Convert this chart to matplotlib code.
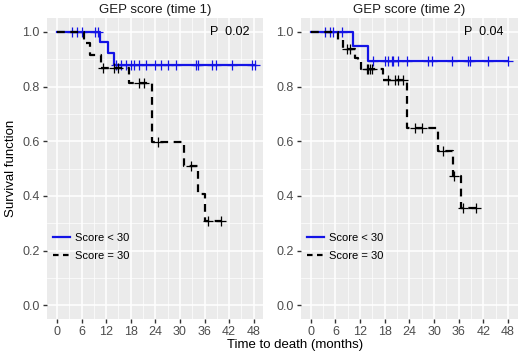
"""
Kaplan-Meier curves for GEP score, two panels (ggplot look).
"""
import numpy as np
import matplotlib
matplotlib.use("Agg")
import matplotlib.pyplot as plt

plt.rcParams['font.family'] = ['Liberation Sans', 'DejaVu Sans']

# panel 1: GEP score (time 1)
t1_low_times = [0, 10.4, 12.4, 13.8, 48.4]
t1_low_surv = [1.0, 0.962, 0.924, 0.880, 0.880]
t1_low_cens = [3.6, 4.8, 6.1, 9.2, 9.9, 14.5, 15.7, 16.9, 18.1, 18.9, 20.1, 21.7,
               23.8, 25.4, 27.0, 29.0, 33.9, 34.3, 37.9, 38.7, 42.7, 47.6, 48.4]
t1_high_times = [0, 6.6, 8.0, 10.7, 17.5, 23.3, 30.9, 34.5, 36.1, 39.9]
t1_high_surv = [1.0, 0.960, 0.914, 0.870, 0.815, 0.596, 0.509, 0.408, 0.308, 0.308]
t1_high_cens = [11.2, 13.8, 14.8, 20.0, 21.3, 24.7, 32.6, 36.9, 39.9]

# panel 2: GEP score (time 2)
t2_low_times = [0, 10.3, 14.0, 48.1]
t2_low_surv = [1.0, 0.948, 0.893, 0.893]
t2_low_cens = [3.4, 4.6, 5.4, 7.5, 15.2, 18.0, 18.8, 19.7, 20.0, 21.3, 23.3,
               28.6, 29.4, 34.3, 38.3, 38.8, 43.2, 48.1]
t2_high_times = [0, 6.7, 7.9, 10.7, 11.5, 12.3, 17.6, 23.3, 31.0, 34.5, 36.5, 40.2]
t2_high_surv = [1.0, 0.972, 0.938, 0.905, 0.893, 0.866, 0.823, 0.647, 0.566,
                0.473, 0.356, 0.356]
t2_high_cens = [8.7, 9.5, 13.6, 14.0, 14.4, 14.8, 18.8, 20.5, 21.3, 22.5,
                25.3, 27.0, 32.2, 34.9, 37.1, 40.2]

titles = ["GEP score (time 1)", "GEP score (time 2)"]
p_values = ["P  0.02", "P  0.04"]
labels = ["Score < 30", "Score = 30"]
x_ticks = [0, 6, 12, 18, 24, 30, 36, 42, 48]
y_ticks = [0.0, 0.2, 0.4, 0.6, 0.8, 1.0]

BLUE = "#1414e6"
W, H = 520, 359


def surv_at(times, surv, t):
    idx = np.searchsorted(times, t, side="right") - 1
    return np.asarray(surv)[idx]


def style_axes(ax):
    ax.set_facecolor("#ebebeb")
    for s in ax.spines.values():
        s.set_visible(False)
    ax.set_xlim(-2.5, 50.3)
    ax.set_ylim(-0.05, 1.05)
    ax.set_xticks(x_ticks)
    ax.set_xticks([3, 9, 15, 21, 27, 33, 39, 45], minor=True)
    ax.set_yticks(y_ticks)
    ax.set_yticks([0.1, 0.3, 0.5, 0.7, 0.9], minor=True)
    ax.set_yticklabels([f"{v:.1f}" for v in y_ticks])
    ax.grid(which="major", color="white", linewidth=1.1)
    ax.grid(which="minor", color="white", linewidth=0.5)
    ax.set_axisbelow(True)
    ax.tick_params(which="major", length=3, width=1, color="#333333",
                   labelcolor="#4d4d4d", labelsize=9, pad=2)
    ax.tick_params(which="minor", length=0)


def draw_km(ax, times, surv, cens, color, ls):
    ax.step(times, surv, where="post", color=color, linestyle=ls, linewidth=1.6)
    ax.plot(cens, surv_at(times, surv, cens), linestyle="none", marker="+",
            markersize=7, markeredgewidth=0.9, color=color)


fig = plt.figure(figsize=(W / 100, H / 100), dpi=100)
ax1 = fig.add_axes([46.7 / W, 1 - 319 / H, 216.5 / W, 300.7 / H])
ax2 = fig.add_axes([300.5 / W, 1 - 319 / H, 217 / W, 300.7 / H])

panels = [
    (ax1, t1_low_times, t1_low_surv, t1_low_cens, t1_high_times, t1_high_surv, t1_high_cens),
    (ax2, t2_low_times, t2_low_surv, t2_low_cens, t2_high_times, t2_high_surv, t2_high_cens),
]

for i, (ax, lt, ls_, lc, ht, hs, hc) in enumerate(panels):
    style_axes(ax)
    draw_km(ax, lt, ls_, lc, BLUE, "-")
    draw_km(ax, ht, hs, hc, "black", (0, (3.5, 2.5)))
    ax.set_title(titles[i], fontsize=9.5, color="#1a1a1a", pad=4)
    ax.text(37.3, 1.0, p_values[i], fontsize=9, va="center", ha="left", color="black")
    h1, = ax.plot([], [], color=BLUE, linewidth=1.6)
    h2, = ax.plot([], [], color="black", linewidth=1.6, linestyle=(0, (2.5, 2)))
    ax.legend([h1, h2], labels, loc="center left", bbox_to_anchor=(-0.005, 0.24),
              frameon=False, fontsize=8, handlelength=1.5, handletextpad=0.45,
              labelspacing=0.7, borderpad=0.2)

fig.text(295 / W, 1 - 345 / H, "Time to death (months)", ha="center", va="center",
         fontsize=9.5, color="black")
fig.text(11 / W, 1 - 168 / H, "Survival function", ha="center", va="center",
         rotation=90, fontsize=9.5, color="black")

fig.savefig("out.png", dpi=100, facecolor="white")
